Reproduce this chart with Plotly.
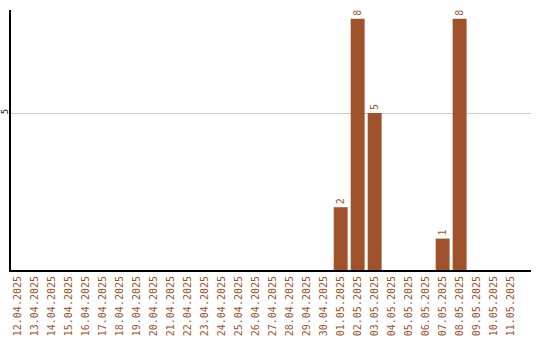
import plotly.graph_objects as go

dates = ["12.04.2025","13.04.2025","14.04.2025","15.04.2025","16.04.2025","17.04.2025",
         "18.04.2025","19.04.2025","20.04.2025","21.04.2025","22.04.2025","23.04.2025",
         "24.04.2025","25.04.2025","26.04.2025","27.04.2025","28.04.2025","29.04.2025",
         "30.04.2025","01.05.2025","02.05.2025","03.05.2025","04.05.2025","05.05.2025",
         "06.05.2025","07.05.2025","08.05.2025","09.05.2025","10.05.2025","11.05.2025"]
values = [0,0,0,0,0,0,0,0,0,0,0,0,0,0,0,0,0,0,0,2,8,5,0,0,0,1,8,0,0,0]
labels = [str(v) if v else "" for v in values]

color = "#A0522D"
mono = "DejaVu Sans Mono"

fig = go.Figure(go.Bar(
    x=list(range(len(dates))), y=values, marker_color=color, marker_line_width=0,
    text=labels, textposition="outside", textangle=-90,
    textfont=dict(family=mono, size=10, color=color), cliponaxis=False,
))
fig.update_layout(
    width=540, height=340, margin=dict(l=11, r=9, t=10, b=70),
    plot_bgcolor="white", paper_bgcolor="white", bargap=0.18, showlegend=False,
)
fig.update_xaxes(
    tickmode="array", tickvals=list(range(len(dates))), ticktext=dates,
    tickangle=-90, tickfont=dict(family=mono, size=10, color=color),
    range=[-0.4, 30.2], showline=True, linecolor="black", linewidth=2,
    showgrid=False, zeroline=False, ticks="", ticklen=0, automargin=False,
)
fig.update_yaxes(
    tickmode="array", tickvals=[5], ticktext=["5"], tickangle=-90,
    tickfont=dict(family=mono, size=9, color="black"),
    range=[0, 8.28], showline=True, linecolor="black", linewidth=2,
    showgrid=True, gridcolor="#cccccc", gridwidth=1, zeroline=False, ticks="",
    automargin=False, ticklabelstandoff=-3,
)
fig.write_html("out.html")
